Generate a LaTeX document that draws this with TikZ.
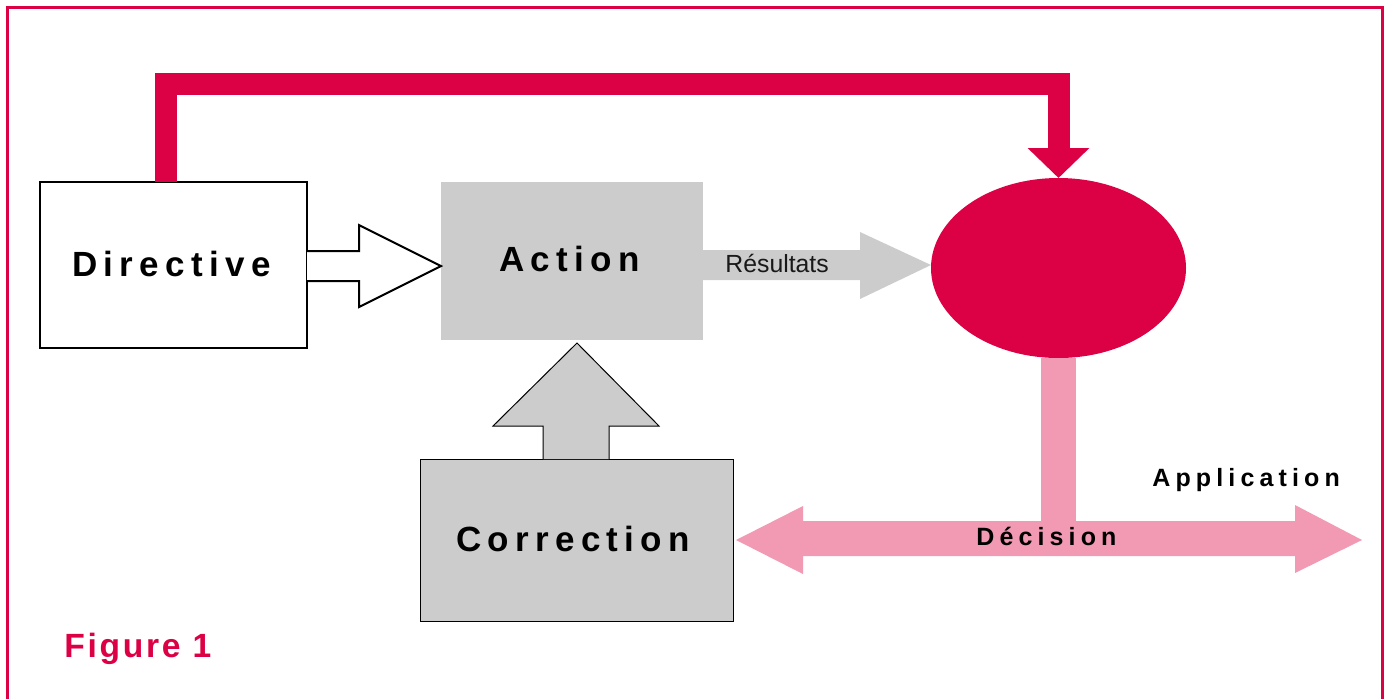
\documentclass[tikz,border=0pt]{standalone}
\usepackage{fontspec}
\setmainfont{Liberation Sans}
\newfontfamily\lsA[LetterSpace=18]{Liberation Sans}
\newfontfamily\lsB[LetterSpace=20.5]{Liberation Sans}
\newfontfamily\lsC[LetterSpace=8]{Liberation Sans}
\usetikzlibrary{arrows.meta,shapes.geometric}
\definecolor{figred}{HTML}{DC0045}
\definecolor{figpink}{HTML}{F299B4}
\definecolor{figgray}{HTML}{CCCCCC}
\tikzset{
  box/.style={rectangle, inner sep=0, outer sep=0},
  big/.style={anchor=base west, inner sep=0, font=\lsA\bfseries\fontsize{17.5}{20}\selectfont},
  mid/.style={anchor=base west, inner sep=0, font=\lsB\bfseries\fontsize{12.5}{15}\selectfont},
}
\begin{document}
\begin{tikzpicture}[x=0.5pt,y=-0.5pt]
\useasboundingbox (0,0) rectangle (1388,698);
% frame
\draw[figred, line width=1.5pt] (7,710) -- (7,7) -- (1382,7) -- (1382,710);
% boxes
\node[box, draw=black, line width=1.1pt, fill=white, minimum width=133.5pt, minimum height=83pt] (dir) at (173.5,265) {};
\node[box, fill=figgray, minimum width=131pt, minimum height=79pt] (act) at (572,261) {};
\node[box, draw=black, line width=0.5pt, fill=figgray, minimum width=156.5pt, minimum height=81pt] (cor) at (576.5,540) {};
\node[ellipse, fill=figred, inner sep=0, outer sep=0, minimum width=127.5pt, minimum height=90pt] (ell) at (1058.5,268) {};
% top red connector
\draw[figred, line width=11pt, line join=miter, -{Triangle[length=15pt,width=30pt]}]
  (dir.north -| 166,0) |- (ell.north |- 0,84) -- (ell.north);
% hollow arrow Directive -> Action
\draw[black, line width=1pt, fill=white, line join=miter]
  (dir.east |- 0,251) -- (359,251) -- (359,225) -- (act.west |- 0,266) -- (359,307) -- (359,281) -- (dir.east |- 0,281);
% Résultats arrow
\fill[figgray] (act.east |- 0,250) -- (860,250) -- (860,232) -- (ell.west |- 0,265) -- (860,299) -- (860,280) -- (act.east |- 0,280) -- cycle;
% Correction arrow
\draw[black, line width=0.5pt, fill=figgray]
  (543,0 |- cor.north) -- (543,426) -- (493,426) -- (577,343) -- (659,426) -- (609,426) -- (609,0 |- cor.north);
% pink decision
\draw[figpink, line width=17.5pt] (ell.south) -- (ell.south |- 0,530);
\fill[figpink] (736,540) -- (803,506) -- (803,521) -- (1295,521) -- (1295,505) -- (1362,540)
  -- (1295,573) -- (1295,556) -- (803,556) -- (803,574) -- cycle;
% texts
\node[big] (tdir) at (72,276) {Directive};
\node[big] (tact) at (499,271) {Action};
\node[big] (tcor) at (456,551) {Correction};
\node[anchor=base west, inner sep=0, font=\fontsize{12.4}{15}\selectfont, text=black!90] (tres) at (725,272) {Résultats};
\node[mid] (tdec) at (976,545) {Décision};
\node[mid] (tapp) at (1152,486) {Application};
\node[anchor=base west, inner sep=0, text=figred, font=\lsC\bfseries\fontsize{16.8}{20}\selectfont] (tfig) at (64,657) {Figure 1};
\end{tikzpicture}
\end{document}
